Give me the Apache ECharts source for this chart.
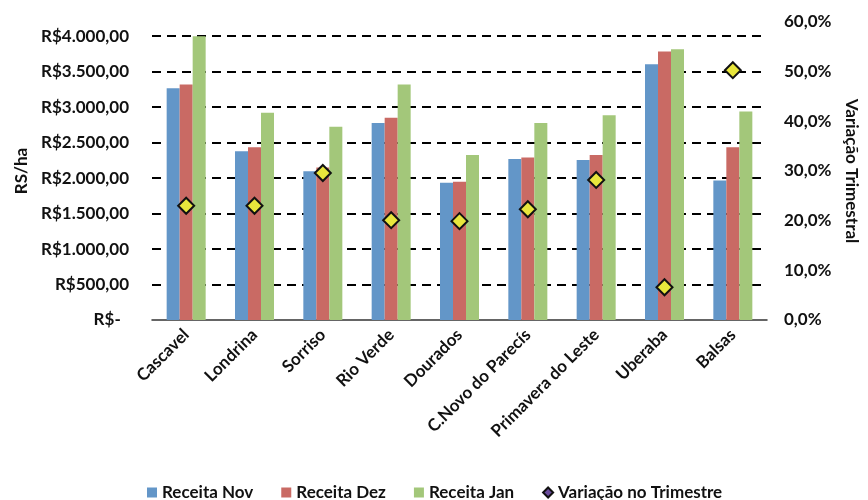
<!DOCTYPE html>
<html>
<head>
<meta charset="utf-8">
<script src="https://cdn.jsdelivr.net/npm/echarts@6/dist/echarts.min.js"></script>
<style>
  html, body { margin: 0; padding: 0; background: #fff; }
  #chart { width: 868px; height: 500px; }
</style>
</head>
<body>
<div id="chart"></div>
<script>
// Receita por hectare (R$/ha) por praça, e a variação no trimestre
var cidades = ['Cascavel', 'Londrina', 'Sorriso', 'Rio Verde', 'Dourados',
  'C.Novo do Parecís', 'Primavera do Leste', 'Uberaba', 'Balsas'];
var receitaNov = [3265, 2380, 2095, 2775, 1935, 2270, 2255, 3605, 1965];
var receitaDez = [3320, 2435, 2150, 2850, 1950, 2290, 2325, 3785, 2435];
var receitaJan = [4000, 2920, 2725, 3320, 2325, 2775, 2885, 3815, 2940];
var variacao = [0.230, 0.230, 0.296, 0.201, 0.199, 0.223, 0.282, 0.066, 0.503];

var fontFam = 'Lato, "Open Sans", sans-serif';
var txt = { fontFamily: fontFam, fontWeight: 'bold', fontSize: 17, color: '#111' };

function brl(v) {
  if (v === 0) return 'R$-\u00a0\u00a0';
  var s = Math.round(v).toString().replace(/\B(?=(\d{3})+(?!\d))/g, '.');
  return 'R$' + s + ',00';
}

var chart = echarts.init(document.getElementById('chart'), null, { renderer: 'canvas' });
chart.setOption({
  animation: false,
  backgroundColor: '#ffffff',
  textStyle: { fontFamily: fontFam },
  grid: { left: 152, right: 92, top: 22, bottom: 180 },
  legend: {
    left: 142, top: 479,
    itemWidth: 10, itemHeight: 10, itemGap: 28,
    textStyle: txt,
    data: [
      { name: 'Receita Nov', icon: 'rect' },
      { name: 'Receita Dez', icon: 'rect' },
      { name: 'Receita Jan', icon: 'rect' },
      { name: 'Variação no Trimestre', icon: 'diamond',
        itemStyle: { color: '#6a4c9c', borderColor: '#111', borderWidth: 2 } }
    ]
  },
  xAxis: {
    type: 'category',
    data: cidades,
    axisLine: { lineStyle: { color: '#333', width: 1.5 } },
    axisTick: { show: false },
    axisLabel: Object.assign({ rotate: 45, margin: 12, interval: 0 }, txt)
  },
  yAxis: [
    {
      type: 'value', min: 0, max: 4200, interval: 500,
      name: 'RS/ha', nameLocation: 'middle', nameGap: 122,
      nameTextStyle: txt,
      axisLine: { show: false },
      axisTick: { show: false },
      axisLabel: Object.assign({
        margin: 23, showMaxLabel: false,
        formatter: function (v) { return v > 4000 ? '' : brl(v); }
      }, txt),
      splitLine: {
        show: true, showMinLine: false, showMaxLine: false,
        lineStyle: { color: '#000', width: 2.2, type: [9, 6] }
      }
    },
    {
      type: 'value', min: 0, max: 0.6, interval: 0.1,
      name: 'Variação Trimestral', nameLocation: 'middle', nameGap: 76, nameRotate: -90,
      nameTextStyle: txt,
      axisLine: { show: false },
      axisTick: { show: false },
      splitLine: { show: false },
      axisLabel: Object.assign({
        margin: 17,
        formatter: function (v) { return (v * 100).toFixed(1).replace('.', ',') + '%'; }
      }, txt)
    }
  ],
  series: [
    { name: 'Receita Nov', type: 'bar', data: receitaNov, barWidth: 13, barGap: '0%',
      itemStyle: { color: '#6396c8' } },
    { name: 'Receita Dez', type: 'bar', data: receitaDez, barWidth: 13, barGap: '0%',
      itemStyle: { color: '#c96a64' } },
    { name: 'Receita Jan', type: 'bar', data: receitaJan, barWidth: 13, barGap: '0%',
      itemStyle: { color: '#a3c77a' } },
    { name: 'Variação no Trimestre', type: 'scatter', yAxisIndex: 1, data: variacao,
      symbol: 'diamond', symbolSize: [16, 16], z: 5,
      itemStyle: { color: '#e8e63c', borderColor: '#111', borderWidth: 2, opacity: 1 } }
  ]
});
</script>
</body>
</html>
